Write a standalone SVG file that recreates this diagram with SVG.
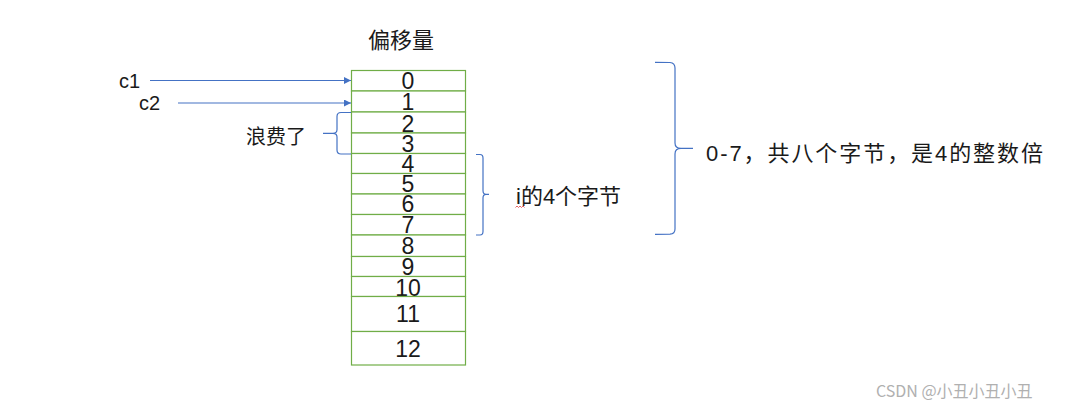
<svg xmlns="http://www.w3.org/2000/svg" width="1082" height="410" viewBox="0 0 1082 410">
<defs>
<style>
.t{font-family:"Liberation Sans","Noto Sans CJK SC",sans-serif;fill:#1a1a1a}
.cjk{font-family:"Noto Sans CJK SC","Liberation Sans",sans-serif;fill:#1a1a1a}
.num{font-family:"Liberation Sans",sans-serif;font-size:23px;fill:#1a1a1a;text-anchor:middle}
.cell{fill:#fff;stroke:#70AD47;stroke-width:1.2}
.conn{stroke:#4472C4;stroke-width:1.2;fill:none}
.brace{stroke:#4472C4;stroke-width:1.2;fill:none}
</style>
<marker id="arr" viewBox="0 0 10 10" refX="10" refY="5" markerWidth="7" markerHeight="7" markerUnits="userSpaceOnUse" orient="auto">
<path d="M0,0 L10,5 L0,10 z" fill="#4472C4"/>
</marker>
</defs>
<rect width="1082" height="410" fill="#fff"/>

<g id="header"><text class="cjk" x="401" y="47.5" font-size="22" text-anchor="middle">偏移量</text></g>

<g id="table">
<g id="cell0"><rect class="cell" x="351.5" y="70.5" width="114" height="20.5"/><text class="num" x="408" y="89">0</text></g>
<g id="cell1"><rect class="cell" x="351.5" y="91" width="114" height="21"/><text class="num" x="408" y="110">1</text></g>
<g id="cell2"><rect class="cell" x="351.5" y="112" width="114" height="21"/><text class="num" x="408" y="131.5">2</text></g>
<g id="cell3"><rect class="cell" x="351.5" y="133" width="114" height="20.5"/><text class="num" x="408" y="151.5">3</text></g>
<g id="cell4"><rect class="cell" x="351.5" y="153.5" width="114" height="20"/><text class="num" x="408" y="171.5">4</text></g>
<g id="cell5"><rect class="cell" x="351.5" y="173.5" width="114" height="20.5"/><text class="num" x="408" y="191.5">5</text></g>
<g id="cell6"><rect class="cell" x="351.5" y="194" width="114" height="20.5"/><text class="num" x="408" y="211.5">6</text></g>
<g id="cell7"><rect class="cell" x="351.5" y="214.5" width="114" height="20.5"/><text class="num" x="408" y="233">7</text></g>
<g id="cell8"><rect class="cell" x="351.5" y="235" width="114" height="21.5"/><text class="num" x="408" y="254">8</text></g>
<g id="cell9"><rect class="cell" x="351.5" y="256.5" width="114" height="20"/><text class="num" x="408" y="275">9</text></g>
<g id="cell10"><rect class="cell" x="351.5" y="276.5" width="114" height="20"/><text class="num" x="408" y="295.5">10</text></g>
<g id="cell11"><rect class="cell" x="351.5" y="296.5" width="114" height="35"/><text class="num" x="408" y="322">11</text></g>
<g id="cell12"><rect class="cell" x="351.5" y="331.5" width="114" height="33.5"/><text class="num" x="408" y="356.5">12</text></g>
</g>

<g id="c1"><text class="t" x="119" y="88" font-size="20">c1</text></g>
<g id="c2"><text class="t" x="139" y="110" font-size="20">c2</text></g>

<g id="connectors">
<line class="conn" x1="150" y1="80.5" x2="351" y2="80.5" marker-end="url(#arr)"/>
<line class="conn" x1="178" y1="103" x2="351" y2="103" marker-end="url(#arr)"/>
<path class="brace" d="M351,112.5 L341,112.5 Q337,112.5 337,116.5 L337,129.5 Q337,133.3 333,133.3 L323,133.3 L333,133.3 Q337,133.3 337,137 L337,150 Q337,154 341,154 L351,154"/>
<path class="brace" d="M476,154.5 L480,154.5 Q483,154.5 483,158 L483,190.5 Q483,194.3 486,194.3 L489,194.3 L486,194.3 Q483,194.3 483,198 L483,231.5 Q483,235 480,235 L476,235"/>
<path class="brace" d="M655,62.3 L670,62.5 Q675,63 675,68 L675,143 Q675,148.3 681,148.3 L693,148.3 L681,148.3 Q675,148.3 675,154 L675,229 Q675,234 670,234.2 L655,234.3"/>
</g>

<g id="waste"><text class="cjk" x="246" y="143.5" font-size="20">浪费了</text></g>

<g id="i-label">
<text class="t" x="516" y="203.5" font-size="22">i的4个字节</text>
<path d="M515.5,207.5 l1.5,-1.5 l1.5,1.5 l1.5,-1.5 l1.5,1.5 l1.5,-1.5 l1.5,1.5" fill="none" stroke="#e04040" stroke-width="0.8"/>
</g>

<g id="summary"><text class="t" x="706" y="161" font-size="22" textLength="337" lengthAdjust="spacing">0-7，共八个字节，是4的整数倍</text></g>

<g id="watermark"><text x="876" y="397" font-family="'Noto Sans CJK SC','Liberation Sans',sans-serif" font-size="16" fill="#b0b0b0">CSDN @小丑小丑小丑</text></g>
</svg>
